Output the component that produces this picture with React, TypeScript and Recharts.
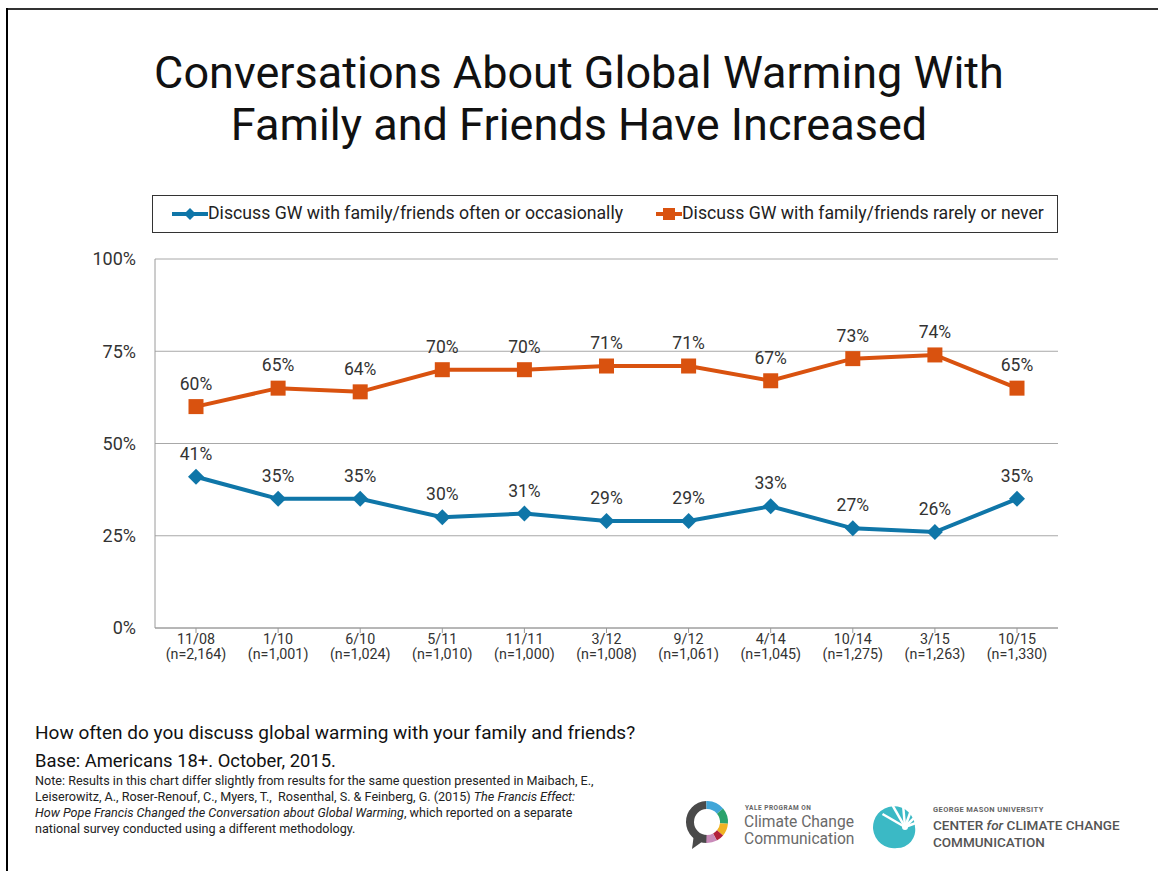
import React from 'react';
import { LineChart, Line, XAxis, YAxis, CartesianGrid, LabelList } from 'recharts';

const categories = ['11/08', '1/10', '6/10', '5/11', '11/11', '3/12', '9/12', '4/14', '10/14', '3/15', '10/15'];
const sampleSizes = ['(n=2,164)', '(n=1,001)', '(n=1,024)', '(n=1,010)', '(n=1,000)', '(n=1,008)', '(n=1,061)', '(n=1,045)', '(n=1,275)', '(n=1,263)', '(n=1,330)'];
const oftenValues = [41, 35, 35, 30, 31, 29, 29, 33, 27, 26, 35];
const rarelyValues = [60, 65, 64, 70, 70, 71, 71, 67, 73, 74, 65];
const yTicks = [0, 25, 50, 75, 100];

const oftenLabel = 'Discuss GW with family/friends often or occasionally';
const rarelyLabel = 'Discuss GW with family/friends rarely or never';

const BLUE = '#0f76a8';
const ORANGE = '#d9520f';
const FONT = 'Roboto, "Noto Sans", sans-serif';

const data = categories.map((date, i) => ({
  date,
  n: sampleSizes[i],
  often: oftenValues[i],
  rarely: rarelyValues[i],
}));

// eslint-disable-next-line @typescript-eslint/no-explicit-any
const DiamondDot = (props: any) => {
  const { cx, cy } = props;
  if (cx == null || cy == null) return null;
  const r = 8;
  return <path d={`M${cx},${cy - r}L${cx + r},${cy}L${cx},${cy + r}L${cx - r},${cy}Z`} fill={BLUE} />;
};

// eslint-disable-next-line @typescript-eslint/no-explicit-any
const SquareDot = (props: any) => {
  const { cx, cy } = props;
  if (cx == null || cy == null) return null;
  return <rect x={cx - 7.5} y={cy - 7.5} width={15} height={15} fill={ORANGE} />;
};

// eslint-disable-next-line @typescript-eslint/no-explicit-any
const DateTick = (props: any) => {
  const { x, y, payload, index } = props;
  return (
    <text x={x} y={y} textAnchor="middle" fill="#333" fontSize={14.3} fontFamily={FONT}>
      <tspan x={x} dy={9}>{payload.value}</tspan>
      <tspan x={x} dy={15}>{sampleSizes[index]}</tspan>
    </text>
  );
};

function YaleLogo() {
  const seg = (a0: number, a1: number, color: string) => {
    const cx = 21, cy = 21, r = 17;
    const p0 = [cx + r * Math.cos(a0), cy + r * Math.sin(a0)];
    const p1 = [cx + r * Math.cos(a1), cy + r * Math.sin(a1)];
    const large = a1 - a0 > Math.PI ? 1 : 0;
    return <path d={`M${p0[0]},${p0[1]}A${r},${r} 0 ${large} 1 ${p1[0]},${p1[1]}`} stroke={color} strokeWidth={8} fill="none" />;
  };
  const d = Math.PI / 180;
  return (
    <svg width={48} height={50} style={{ position: 'absolute', left: 686, top: 801 }}>
      {seg(90 * d, 268 * d, '#4a4a4a')}
      {seg(-92 * d, -40 * d, '#41a6d8')}
      {seg(-40 * d, 5 * d, '#2aa36b')}
      {seg(5 * d, 40 * d, '#f0b323')}
      {seg(40 * d, 62 * d, '#b2213a')}
      {seg(62 * d, 92 * d, '#c98bb9')}
      <path d="M8,33 L6,48 L20,38 Z" fill="#4a4a4a" />
    </svg>
  );
}

function MasonLogo() {
  const rays = [-150, -120, -95, -70, -45, -20];
  return (
    <svg width={52} height={48} style={{ position: 'absolute', left: 871, top: 803 }}>
      <path d="M44,24 A21,21 0 1 0 26,45 A18,18 0 0 0 44,24 Z" fill="#3bb9c5" />
      {rays.map((a) => {
        const r = (a * Math.PI) / 180;
        return (
          <line key={a} x1={34} y1={24} x2={34 + 26 * Math.cos(r)} y2={24 + 26 * Math.sin(r)} stroke="#fff" strokeWidth={2.5} />
        );
      })}
      <circle cx={34} cy={24} r={3} fill="#fff" />
    </svg>
  );
}

export default function App() {
  return (
    <div style={{ position: 'absolute', left: 0, top: 0, width: 1158, height: 871, background: '#fff', fontFamily: FONT, color: '#222', overflow: 'hidden' }}>
      {/* frame */}
      <div style={{ position: 'absolute', left: 6, top: 8, width: 1152, height: 2, background: '#333' }} />
      <div style={{ position: 'absolute', left: 6, top: 8, width: 2, height: 863, background: '#000' }} />

      <div style={{ position: 'absolute', left: 0, top: 47, width: 1158, textAlign: 'center', fontSize: 45, fontWeight: 400, lineHeight: '52px', color: '#111' }}>
        Conversations About Global Warming With
        <br />
        Family and Friends Have Increased
      </div>

      <LineChart width={1158} height={700} data={data} margin={{ top: 259, right: 100, bottom: 22, left: 95 }} style={{ position: 'absolute', left: 0, top: 0 }}>
        <CartesianGrid vertical={false} stroke="#a8a8a8" />
        <XAxis
          dataKey="date"
          padding={{ left: 41, right: 41 }}
          height={50}
          stroke="#9a9a9a"
          tickSize={5}
          tick={<DateTick />}
          interval={0}
        />
        <YAxis
          domain={[0, 100]}
          ticks={yTicks}
          width={60}
          stroke="#9a9a9a"
          tickLine={false}
          tickSize={0}
          tickMargin={19}
          tickFormatter={(v: number) => `${v}%`}
          tick={{ fill: '#333', fontSize: 18, fontFamily: FONT }}
        />
        <Line dataKey="rarely" name={rarelyLabel} stroke={ORANGE} strokeWidth={4} dot={<SquareDot />} isAnimationActive={false}>
          <LabelList dataKey="rarely" position="top" offset={17} formatter={(v: number) => `${v}%`} fill="#333" fontSize={17.5} fontFamily={FONT} />
        </Line>
        <Line dataKey="often" name={oftenLabel} stroke={BLUE} strokeWidth={4} dot={<DiamondDot />} isAnimationActive={false}>
          <LabelList dataKey="often" position="top" offset={17} formatter={(v: number) => `${v}%`} fill="#333" fontSize={17.5} fontFamily={FONT} />
        </Line>
      </LineChart>

      {/* legend */}
      <div style={{ position: 'absolute', left: 152, top: 195, width: 904, height: 36, border: '1.5px solid #333', boxSizing: 'content-box', fontSize: 17.7, color: '#222' }}>
        <svg width={36} height={12} style={{ position: 'absolute', left: 19, top: 12 }}>
          <line x1={0} y1={6} x2={36} y2={6} stroke={BLUE} strokeWidth={4} />
          <path d="M18,0L24,6L18,12L12,6Z" fill={BLUE} />
        </svg>
        <span style={{ position: 'absolute', left: 55, top: 7, whiteSpace: 'nowrap' }}>{oftenLabel}</span>
        <svg width={26} height={12} style={{ position: 'absolute', left: 503, top: 12 }}>
          <line x1={0} y1={6} x2={26} y2={6} stroke={ORANGE} strokeWidth={4} />
          <rect x={7} y={0} width={12} height={12} fill={ORANGE} />
        </svg>
        <span style={{ position: 'absolute', left: 529, top: 7, whiteSpace: 'nowrap' }}>{rarelyLabel}</span>
      </div>

      {/* footnotes */}
      <div style={{ position: 'absolute', left: 35, top: 721, fontSize: 19, color: '#111', whiteSpace: 'nowrap' }}>
        How often do you discuss global warming with your family and friends?
      </div>
      <div style={{ position: 'absolute', left: 35, top: 750, fontSize: 18.4, color: '#111', whiteSpace: 'nowrap' }}>
        Base: Americans 18+. October, 2015.
      </div>
      <div style={{ position: 'absolute', left: 35, top: 773, fontSize: 12.6, lineHeight: '16px', color: '#222', whiteSpace: 'nowrap' }}>
        Note: Results in this chart differ slightly from results for the same question presented in Maibach, E.,
        <br />
        Leiserowitz, A., Roser-Renouf, C., Myers, T.,&nbsp; Rosenthal, S. &amp; Feinberg, G. (2015) <i>The Francis Effect:</i>
        <br />
        <i>How Pope Francis Changed the Conversation about Global Warming</i>, which reported on a separate
        <br />
        national survey conducted using a different methodology.
      </div>

      {/* logos */}
      <YaleLogo />
      <div style={{ position: 'absolute', left: 745, top: 804, fontSize: 6.5, fontWeight: 700, letterSpacing: 0.5, color: '#666', whiteSpace: 'nowrap' }}>YALE PROGRAM ON</div>
      <div style={{ position: 'absolute', left: 744, top: 814, fontSize: 15.6, lineHeight: '17px', color: '#6a6a6a', whiteSpace: 'nowrap' }}>
        Climate Change
        <br />
        Communication
      </div>
      <MasonLogo />
      <div style={{ position: 'absolute', left: 933, top: 805, fontSize: 7.5, fontWeight: 700, letterSpacing: 0.4, color: '#666', whiteSpace: 'nowrap' }}>GEORGE MASON UNIVERSITY</div>
      <div style={{ position: 'absolute', left: 933, top: 817, fontSize: 13.5, lineHeight: '17px', fontWeight: 500, color: '#555', whiteSpace: 'nowrap' }}>
        CENTER <i>for</i> CLIMATE CHANGE
        <br />
        COMMUNICATION
      </div>
    </div>
  );
}
